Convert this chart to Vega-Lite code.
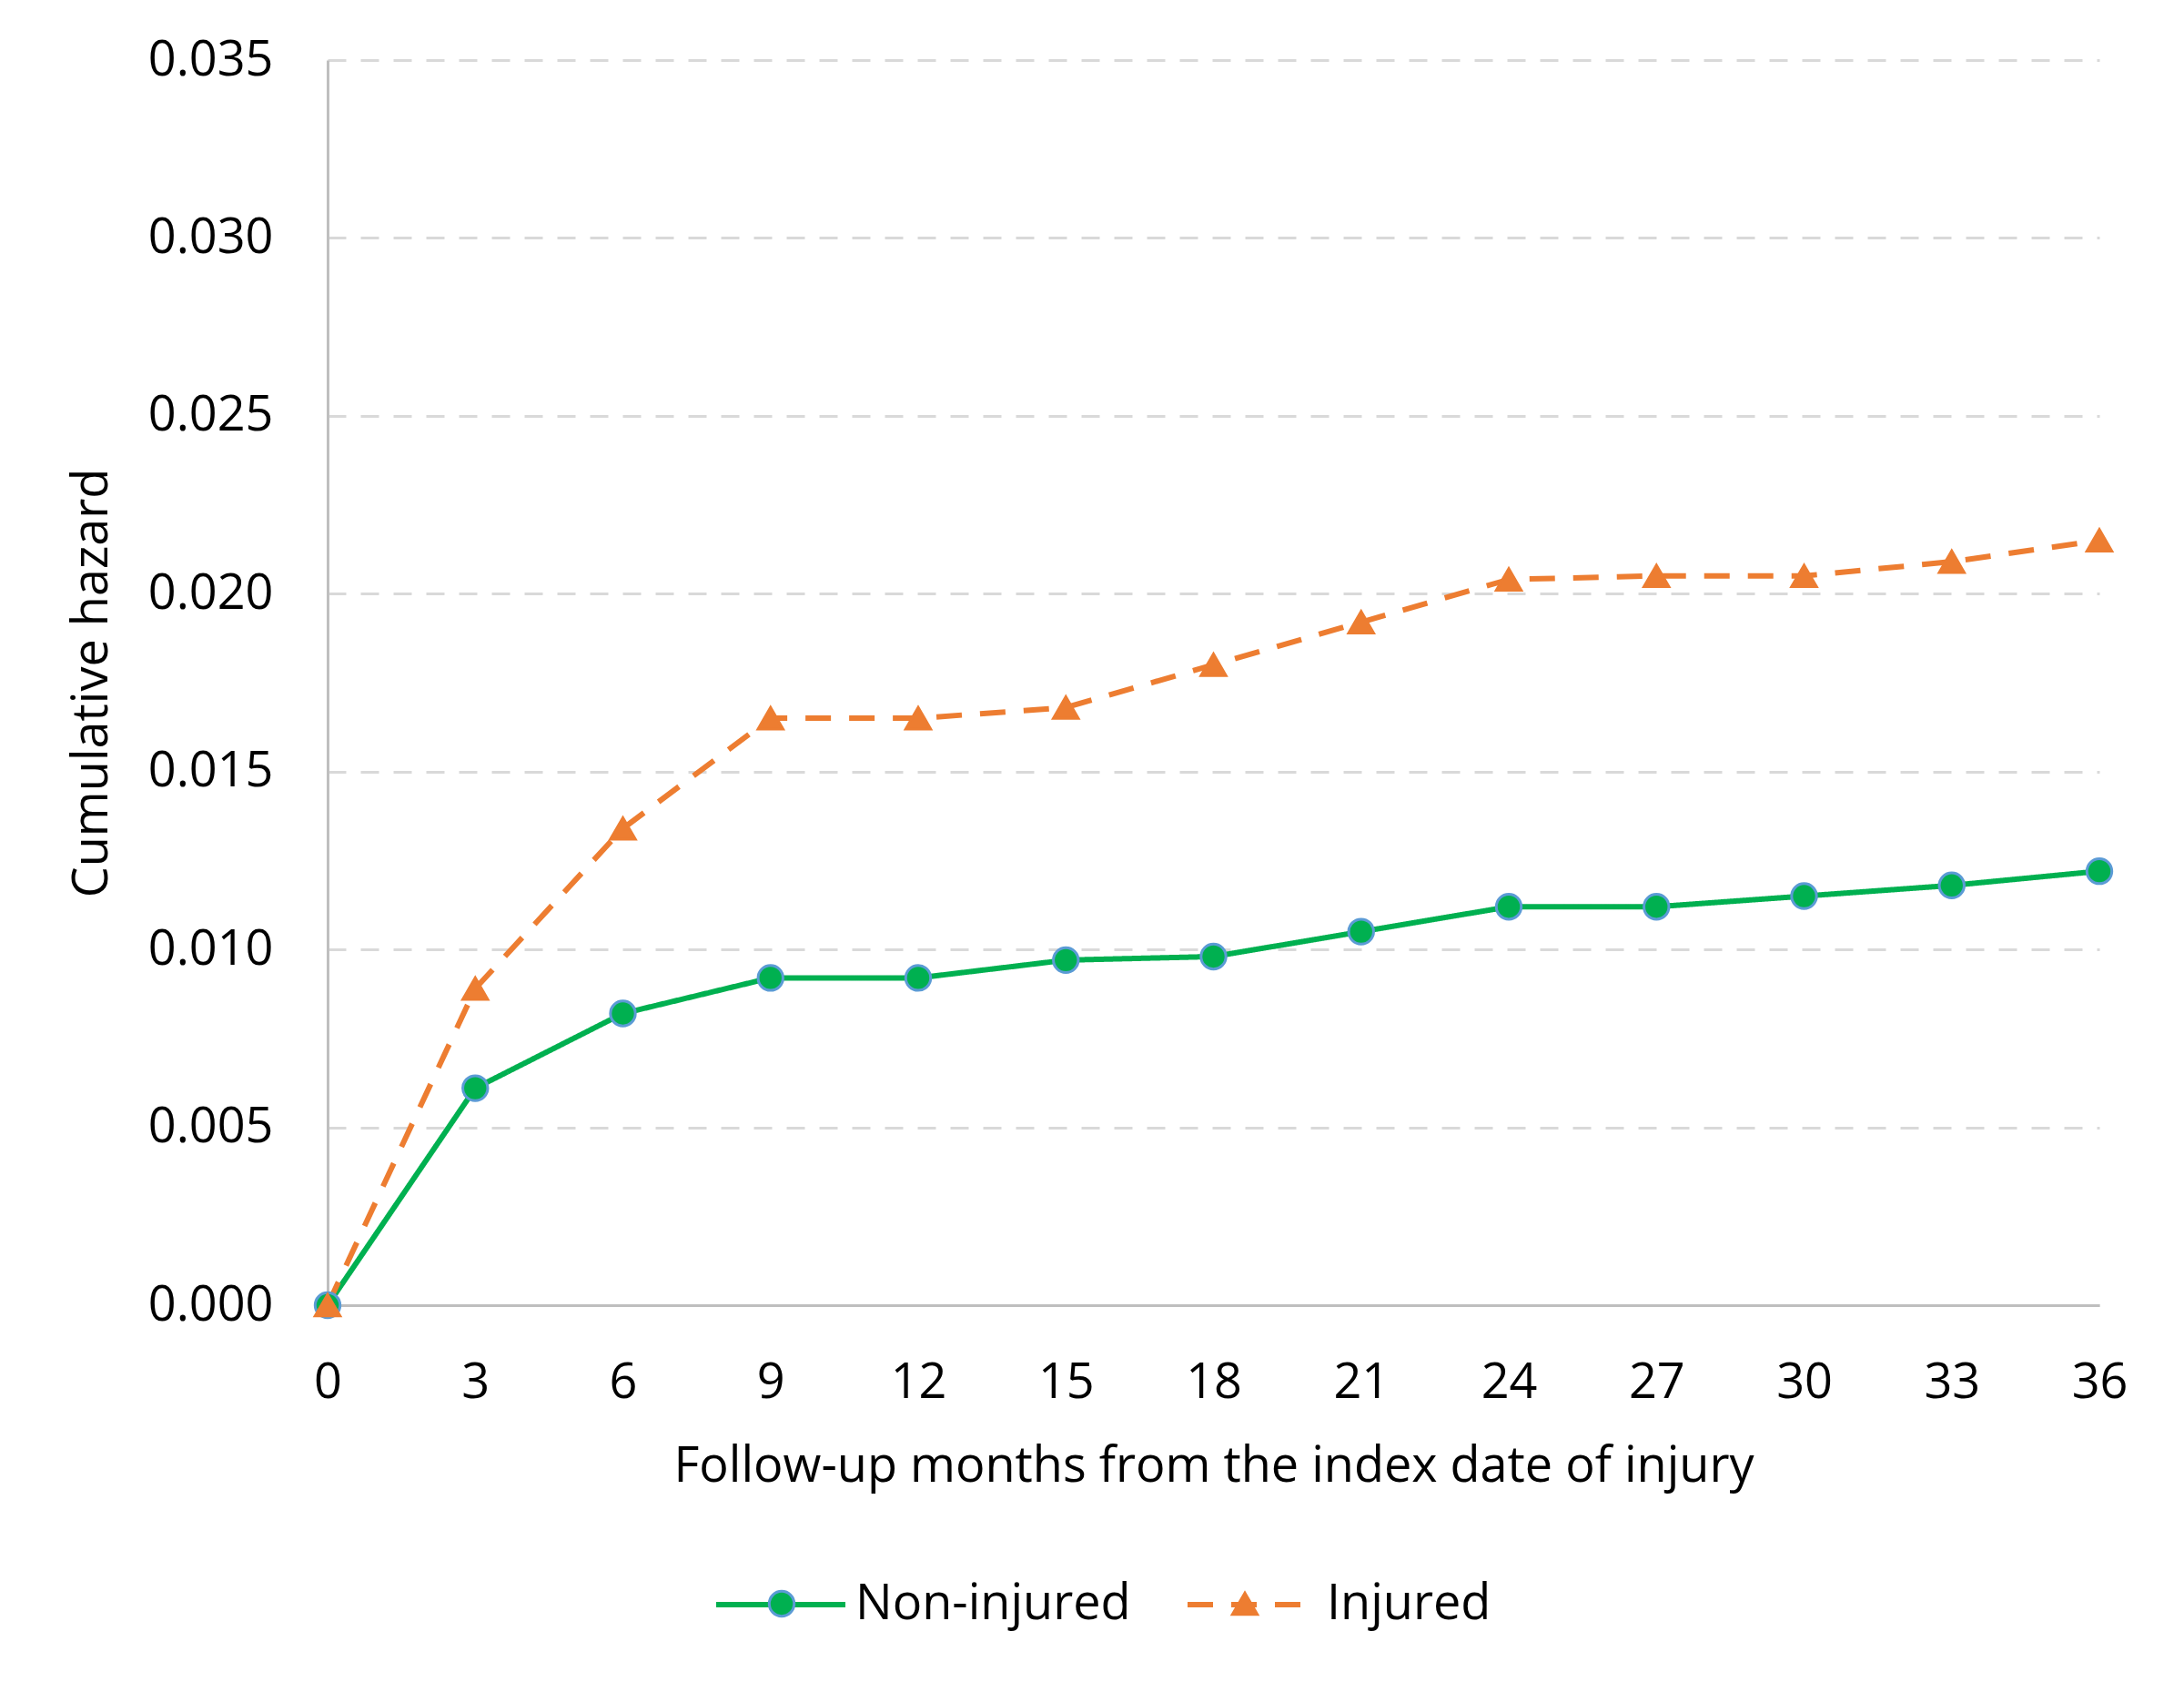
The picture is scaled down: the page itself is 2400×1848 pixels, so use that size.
{
  "$schema": "https://vega.github.io/schema/vega-lite/v6.json",
  "autosize": "none",
  "width": 1947,
  "height": 1368,
  "padding": {"left": 360, "top": 66, "right": 93, "bottom": 414},
  "background": "white",
  "config": {
    "font": "Open Sans",
    "view": {"stroke": null},
    "axis": {"labelFont": "Open Sans", "titleFont": "Open Sans", "labelColor": "#000000", "titleColor": "#000000", "labelFontSize": 54, "titleFontSize": 54, "titleFontWeight": "normal", "ticks": false, "domainColor": "#bfbfbf", "domainWidth": 3},
    "legend": {"labelFont": "Open Sans", "labelFontSize": 54, "labelColor": "#000000", "padding": 0, "labelLimit": 0}
  },
  "data": {"values": [
    {"month": 0, "group": "Non-injured", "value": 0},
    {"month": 3, "group": "Non-injured", "value": 0.0061},
    {"month": 6, "group": "Non-injured", "value": 0.0082},
    {"month": 9, "group": "Non-injured", "value": 0.0092},
    {"month": 12, "group": "Non-injured", "value": 0.0092},
    {"month": 15, "group": "Non-injured", "value": 0.0097},
    {"month": 18, "group": "Non-injured", "value": 0.0098},
    {"month": 21, "group": "Non-injured", "value": 0.0105},
    {"month": 24, "group": "Non-injured", "value": 0.0112},
    {"month": 27, "group": "Non-injured", "value": 0.0112},
    {"month": 30, "group": "Non-injured", "value": 0.0115},
    {"month": 33, "group": "Non-injured", "value": 0.0118},
    {"month": 36, "group": "Non-injured", "value": 0.0122},
    {"month": 0, "group": "Injured", "value": 0},
    {"month": 3, "group": "Injured", "value": 0.0089},
    {"month": 6, "group": "Injured", "value": 0.0134},
    {"month": 9, "group": "Injured", "value": 0.0165},
    {"month": 12, "group": "Injured", "value": 0.0165},
    {"month": 15, "group": "Injured", "value": 0.0168},
    {"month": 18, "group": "Injured", "value": 0.0180},
    {"month": 21, "group": "Injured", "value": 0.0192},
    {"month": 24, "group": "Injured", "value": 0.0204},
    {"month": 27, "group": "Injured", "value": 0.0205},
    {"month": 30, "group": "Injured", "value": 0.0205},
    {"month": 33, "group": "Injured", "value": 0.0209},
    {"month": 36, "group": "Injured", "value": 0.0215}
  ]},
  "encoding": {
    "x": {"field": "month", "type": "quantitative", "scale": {"domain": [0, 36], "nice": false, "zero": false},
      "axis": {"values": [0,3,6,9,12,15,18,21,24,27,30,33,36], "grid": false, "labelPadding": 58, "title": "Follow-up months from the index date of injury", "titlePadding": 38, "labelFlush": false}},
    "y": {"field": "value", "type": "quantitative", "scale": {"domain": [0, 0.035], "nice": false},
      "axis": {"values": [0,0.005,0.01,0.015,0.02,0.025,0.03,0.035], "format": ".3f", "grid": true, "gridColor": "#d9d9d9", "gridWidth": 3, "gridDash": [20, 16], "labelPadding": 60, "title": "Cumulative hazard", "titlePadding": 34}}
  },
  "layer": [
    {
      "mark": {"type": "line", "strokeWidth": 6},
      "encoding": {
        "color": {"field": "group", "type": "nominal", "sort": ["Non-injured", "Injured"],
          "scale": {"domain": ["Non-injured", "Injured"], "range": ["#00b050", "#ed7d31"]},
          "legend": {"orient": "none", "legendX": 424, "legendY": 1623, "direction": "horizontal", "title": null, "symbolType": "stroke", "symbolSize": 20164, "symbolStrokeWidth": 6, "labelOffset": 8, "columnPadding": 50}},
        "strokeDash": {"field": "group", "type": "nominal", "sort": ["Non-injured", "Injured"],
          "scale": {"domain": ["Non-injured", "Injured"], "range": [[1, 0], [28, 20]]},
          "legend": {"orient": "none", "legendX": 424, "legendY": 1623, "direction": "horizontal", "title": null, "symbolType": "stroke", "symbolSize": 20164, "symbolStrokeWidth": 6, "labelOffset": 8, "columnPadding": 50}}
      }
    },
    {
      "mark": {"type": "point", "filled": true, "opacity": 1, "strokeWidth": 3, "size": 750},
      "encoding": {
        "color": {"field": "group", "type": "nominal", "sort": ["Non-injured", "Injured"],
          "scale": {"domain": ["Non-injured", "Injured"], "range": ["#00b050", "#ed7d31"]},
          "legend": {"orient": "none", "legendX": 472, "legendY": 1669, "direction": "horizontal", "title": null, "symbolSize": 750, "symbolStrokeWidth": 3, "labelExpr": "''", "labelOffset": 107, "columnPadding": 348}},
        "shape": {"field": "group", "type": "nominal", "sort": ["Non-injured", "Injured"],
          "scale": {"domain": ["Non-injured", "Injured"], "range": ["circle", "triangle-up"]},
          "legend": {"orient": "none", "legendX": 472, "legendY": 1669, "direction": "horizontal", "title": null, "symbolSize": 750, "symbolStrokeWidth": 3, "labelExpr": "''", "labelOffset": 107, "columnPadding": 348}},
        "stroke": {"field": "group", "type": "nominal", "sort": ["Non-injured", "Injured"],
          "scale": {"domain": ["Non-injured", "Injured"], "range": ["#5b9bd5", "#ed7d31"]},
          "legend": {"orient": "none", "legendX": 472, "legendY": 1669, "direction": "horizontal", "title": null, "symbolSize": 750, "symbolStrokeWidth": 3, "labelExpr": "''", "labelOffset": 107, "columnPadding": 348}}
      }
    }
  ],
  "resolve": {
    "scale": {"color": "independent", "shape": "independent", "stroke": "independent", "strokeDash": "independent"},
    "legend": {"color": "independent", "shape": "independent", "stroke": "independent", "strokeDash": "independent"}
  }
}
